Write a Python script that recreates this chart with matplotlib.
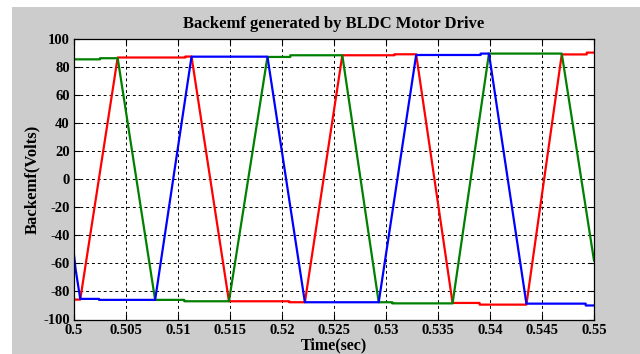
import matplotlib
matplotlib.use("Agg")
import matplotlib.pyplot as plt
from matplotlib.patches import Rectangle

# Phase back-emf waveforms (time in s, volts)
red_t = [0.5, 0.5006, 0.5042, 0.5107, 0.5107, 0.5113, 0.5149, 0.5207, 0.5207,
         0.5222, 0.5258, 0.5308, 0.5308, 0.5329, 0.5364, 0.5390, 0.5390,
         0.5435, 0.5469, 0.5493, 0.5493, 0.55]
red_v = [-85.8, -85.8, 86.8, 86.8, 87.5, 87.5, -87.0, -87.0, -87.7,
         -87.7, 88.4, 88.4, 89.1, 89.1, -88.2, -88.2, -89.4,
         -89.4, 89.0, 89.0, 90.3, 90.3]

green_t = [0.5, 0.5025, 0.5025, 0.5042, 0.5078, 0.5106, 0.5106, 0.5149,
           0.5186, 0.5208, 0.5208, 0.5258, 0.5293, 0.5306, 0.5306, 0.5364,
           0.5399, 0.5469, 0.55]
green_v = [85.5, 85.5, 86.3, 86.3, -86.0, -86.0, -87.0, -87.0,
           87.2, 87.2, 88.4, 88.4, -87.7, -87.7, -88.5, -88.5,
           89.6, 89.6, -58.0]

blue_t = [0.5, 0.50015, 0.5006, 0.5024, 0.5024, 0.5078, 0.5113, 0.5186,
          0.5222, 0.5293, 0.5329, 0.5391, 0.5391, 0.5399, 0.5435, 0.5492,
          0.5492, 0.55]
blue_v = [-54.0, -64.0, -85.3, -85.3, -86.0, -86.0, 87.4, 87.4,
          -87.7, -87.7, 88.6, 88.6, 89.6, 89.6, -88.7, -88.7,
          -90.0, -90.0]

x_ticks = [0.5, 0.505, 0.51, 0.515, 0.52, 0.525, 0.53, 0.535, 0.54, 0.545, 0.55]
x_labels = ["0.5", "0.505", "0.51", "0.515", "0.52", "0.525", "0.53",
            "0.535", "0.54", "0.545", "0.55"]
y_ticks = list(range(-100, 101, 20))

plt.rcParams["font.family"] = ["Liberation Serif", "DejaVu Serif"]
plt.rcParams["font.weight"] = "bold"
plt.rcParams["axes.unicode_minus"] = False

fig = plt.figure(figsize=(6.4, 3.54), dpi=100, facecolor="white")
fig.patches.append(Rectangle((12 / 640, 0), 1, 1 - 7 / 354,
                             transform=fig.transFigure, facecolor="#cccccc",
                             edgecolor="none", zorder=-10))

ax = fig.add_axes([74 / 640, 1 - 319.5 / 354, 520 / 640, 280.5 / 354])
ax.set_facecolor("white")

ax.plot(red_t, red_v, color="#ff0000", linewidth=1.6)
ax.plot(green_t, green_v, color="#008000", linewidth=1.6)
ax.plot(blue_t, blue_v, color="#0000ff", linewidth=1.6)

ax.set_xlim(0.5, 0.55)
ax.set_ylim(-100, 100)
ax.set_xticks(x_ticks)
ax.set_xticklabels(x_labels)
ax.set_yticks(y_ticks)
ax.tick_params(direction="in", length=4, width=0.8, labelsize=10.5, pad=3,
               top=True, right=True)
for lbl in ax.get_xticklabels() + ax.get_yticklabels():
    lbl.set_fontweight("bold")
ax.grid(True, color="black", linestyle=(0, (3, 3)), linewidth=0.7)
for s in ax.spines.values():
    s.set_linewidth(0.9)

ax.set_title("Backemf generated by BLDC Motor Drive", fontsize=12,
             fontweight="bold", pad=8)
ax.set_xlabel("Time(sec)", fontsize=11.5, fontweight="bold", labelpad=0.5)
ax.set_ylabel("Backemf(Volts)", fontsize=12, fontweight="bold", labelpad=2)

fig.savefig("out.png", dpi=100, facecolor=fig.get_facecolor())
